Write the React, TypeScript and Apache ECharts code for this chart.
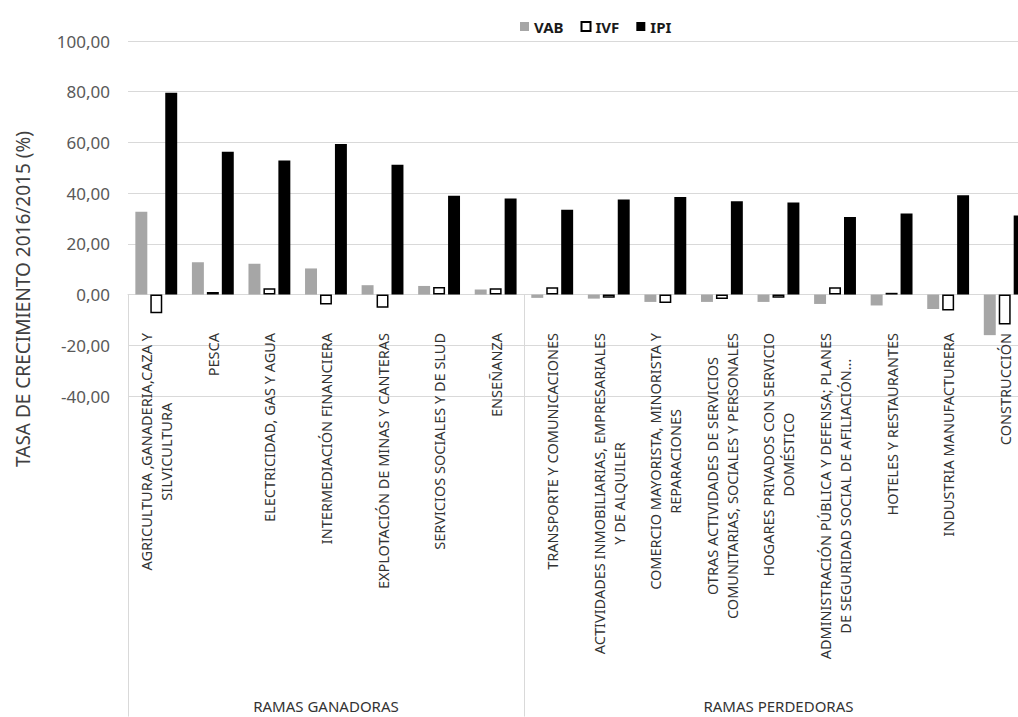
import React, { useEffect, useRef } from "react";
import * as echarts from "echarts";

const categories = [
  "AGRICULTURA ,GANADERIA,CAZA Y\nSILVICULTURA",
  "PESCA",
  "ELECTRICIDAD, GAS Y AGUA",
  "INTERMEDIACIÓN FINANCIERA",
  "EXPLOTACIÓN DE MINAS Y CANTERAS",
  "SERVICIOS SOCIALES Y DE SLUD",
  "ENSEÑANZA",
  "TRANSPORTE Y COMUNICACIONES",
  "ACTIVIDADES INMOBILIARIAS, EMPRESARIALES\nY DE ALQUILER",
  "COMERCIO MAYORISTA, MINORISTA Y\nREPARACIONES",
  "OTRAS ACTIVIDADES DE SERVICIOS\nCOMUNITARIAS, SOCIALES Y PERSONALES",
  "HOGARES PRIVADOS CON SERVICIO\nDOMÉSTICO",
  "ADMINISTRACIÓN PÚBLICA Y DEFENSA; PLANES\nDE SEGURIDAD SOCIAL DE AFILIACIÓN…",
  "HOTELES Y RESTAURANTES",
  "INDUSTRIA MANUFACTURERA",
  "CONSTRUCCIÓN",
];

const groupNames = ["RAMAS GANADORAS", "RAMAS PERDEDORAS"];
const groupSizes = [7, 9];

const vab = [32.7, 12.7, 12.2, 10.3, 3.7, 3.4, 2.0, -1.3, -1.6, -2.9, -2.9, -2.9, -3.7, -4.3, -5.7, -16.0];
const ivf = [-7.4, 1.0, 2.5, -3.9, -5.2, 3.0, 2.5, 2.9, -1.3, -3.3, -1.7, -1.3, 2.9, 0.7, -6.3, -11.8];
const ipi = [79.6, 56.3, 52.9, 59.4, 51.2, 39.0, 37.9, 33.5, 37.5, 38.5, 36.8, 36.3, 30.6, 32.0, 39.2, 31.2];

const yTitle = "TASA DE CRECIMIENTO 2016/2015 (%)";
const FONT = "Noto Sans";

export default function App() {
  const ref = useRef<HTMLDivElement>(null);

  useEffect(() => {
    if (!ref.current) return;
    const chart = echarts.init(ref.current, null, { renderer: "svg" });

    const groupAxisData: string[] = [];
    const groupStarts: number[] = [];
    let start = 0;
    groupSizes.forEach((size, gi) => {
      groupStarts.push(start);
      for (let i = 0; i < size; i++) {
        groupAxisData.push(i === Math.floor(size / 2) ? groupNames[gi] : "");
      }
      start += size;
    });

    chart.setOption({
      animation: false,
      textStyle: { fontFamily: FONT },
      legend: {
        left: 515,
        top: 14,
        icon: "rect",
        itemWidth: 9,
        itemHeight: 9,
        itemGap: 17,
        textStyle: { fontFamily: FONT, fontSize: 15, fontWeight: "bold", color: "#1a1a1a" },
        data: ["VAB", "IVF", "IPI"],
      },
      grid: {
        left: 128,
        right: -15,
        top: 41,
        bottom: 321,
        containLabel: false,
        outerBoundsMode: "none",
      },
      xAxis: [
        {
          type: "category",
          data: categories,
          axisLine: { show: true, onZero: true, lineStyle: { color: "#d9d9d9", width: 1 } },
          axisTick: {
            show: true,
            length: 422,
            interval: (index: number) => groupStarts.indexOf(index) >= 0,
            lineStyle: { color: "#d9d9d9", width: 1 },
          },
          axisLabel: {
            interval: 0,
            rotate: 90,
            margin: -63,
            color: "#333333",
            formatter: (v: string) => v.split("\n").map((l) => `{c|${l}}`).join("\n"),
            rich: {
              c: { align: "center", fontFamily: FONT, fontSize: 14.5, lineHeight: 20, color: "#333333" },
            },
          },
          splitLine: { show: false },
        },
        {
          type: "category",
          position: "bottom",
          data: groupAxisData,
          axisLine: { show: false, onZero: false },
          axisTick: { show: false },
          axisLabel: {
            interval: 0,
            margin: 302,
            fontFamily: FONT,
            fontSize: 15,
            lineHeight: 16,
            color: "#333333",
          },
          splitLine: { show: false },
        },
      ],
      yAxis: {
        type: "value",
        min: -40,
        max: 100,
        interval: 20,
        axisLine: { show: false },
        axisTick: { show: false },
        axisLabel: {
          margin: 18,
          fontFamily: FONT,
          fontSize: 17,
          color: "#595959",
          formatter: (v: number) => v.toFixed(2).replace(".", ","),
        },
        splitLine: { lineStyle: { color: "#d9d9d9", width: 1 } },
      },
      graphic: [
        {
          type: "text",
          x: 23,
          y: 299,
          rotation: Math.PI / 2,
          style: {
            text: yTitle,
            align: "center",
            verticalAlign: "middle",
            fontFamily: FONT,
            fontSize: 19,
            fill: "#404040",
          },
        },
      ],
      series: [
        {
          name: "VAB",
          type: "bar",
          data: vab,
          barGap: "25%",
          barCategoryGap: "26%",
          itemStyle: { color: "#a6a6a6" },
        },
        {
          name: "IVF",
          type: "bar",
          data: ivf,
          barGap: "25%",
          barCategoryGap: "26%",
          itemStyle: { color: "#ffffff", borderColor: "#000000", borderWidth: 1.5 },
        },
        {
          name: "IPI",
          type: "bar",
          data: ipi,
          barGap: "25%",
          barCategoryGap: "26%",
          itemStyle: { color: "#000000" },
        },
      ],
    });

    return () => chart.dispose();
  }, []);

  return (
    <div
      ref={ref}
      style={{ position: "fixed", left: 0, top: 0, width: 1018, height: 717, background: "#ffffff" }}
    />
  );
}
